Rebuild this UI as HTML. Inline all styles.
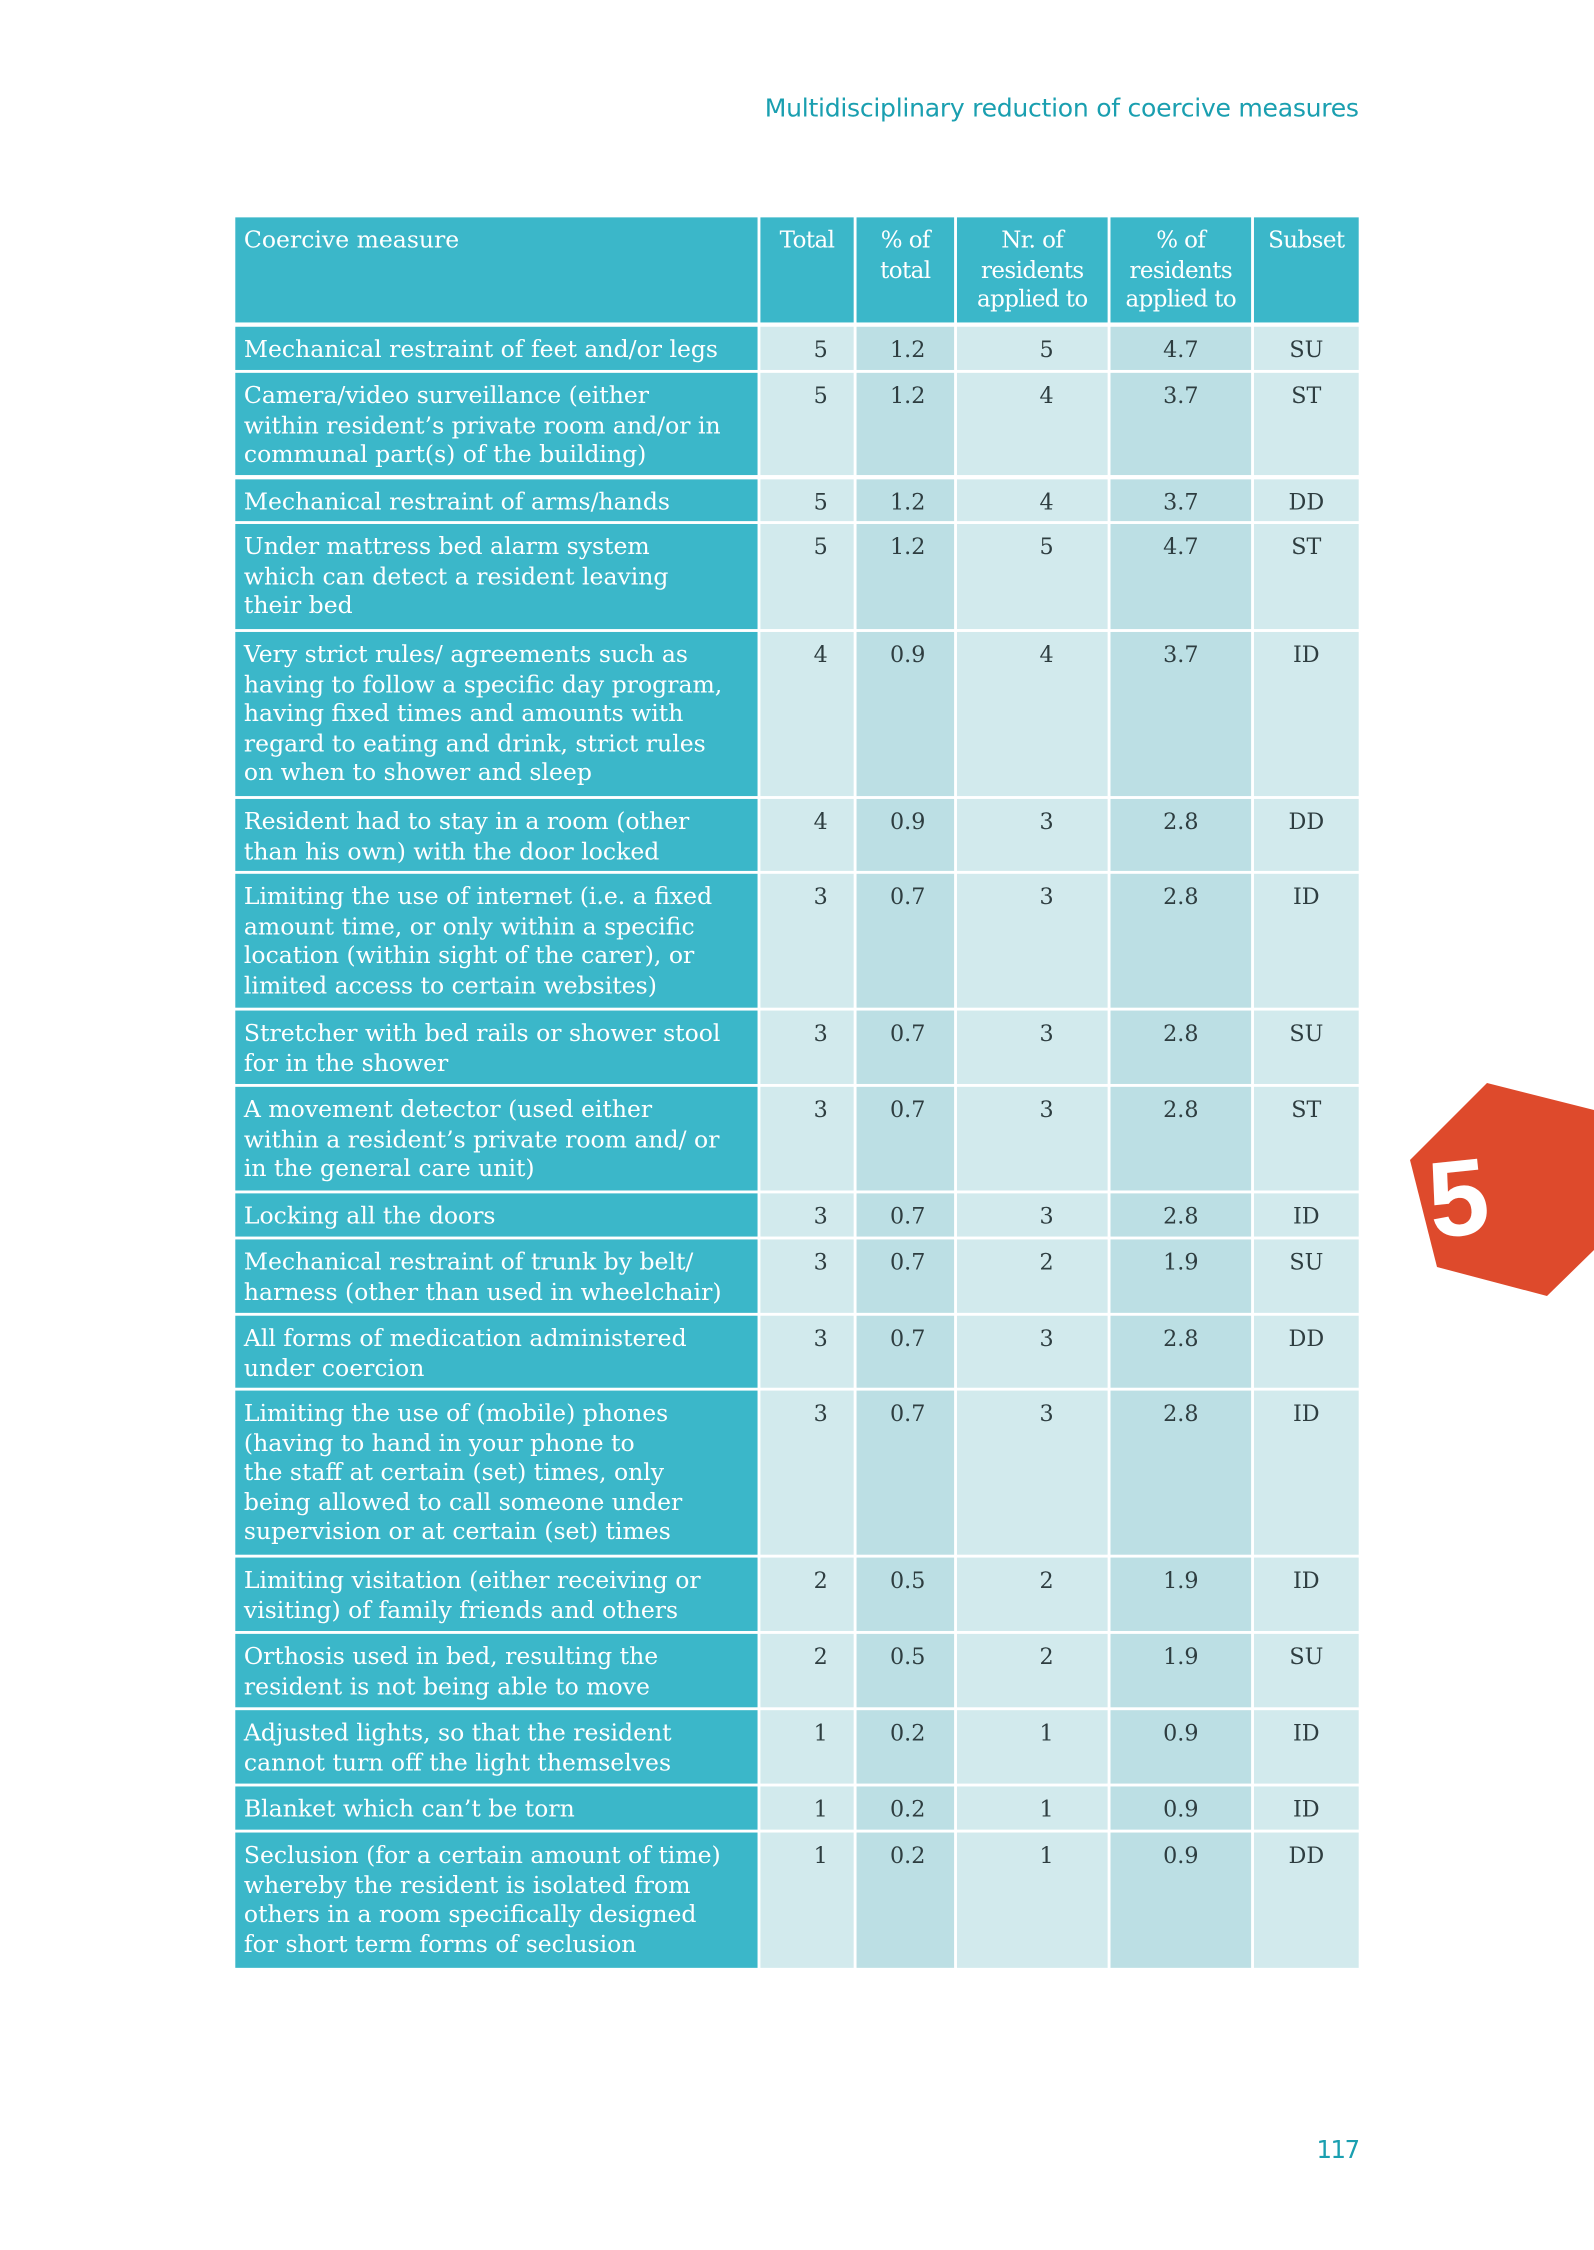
<!DOCTYPE html>
<html><head><meta charset="utf-8"><style>
html,body{margin:0;padding:0;background:#fff;width:1594px;height:2250px;overflow:hidden;}
#w{position:absolute;left:0;top:0;width:1111px;height:1563px;transform:scale(1.43474,1.43954);transform-origin:0 0;}
.c{position:absolute;box-sizing:border-box;}
.t{background:#3bb7c9;color:#fff;font-family:"DejaVu Serif","Liberation Serif",serif;font-size:16.4px;line-height:20.6px;padding:6px 0 0 6px;white-space:nowrap;letter-spacing:0px;}
.h{font-size:16px;text-align:center;padding:6px 0 0 0;}
.l{background:#d2eaed;}
.d{background:#bcdfe4;}
.n{color:#2e3d40;font-family:"DejaVu Serif","Liberation Serif",serif;font-size:15.5px;line-height:20.6px;padding-top:6px;text-align:center;font-weight:300;}
#title{position:absolute;right:164px;top:66px;color:#1a9fb0;font-family:"DejaVu Sans","Liberation Sans",sans-serif;font-size:17.5px;white-space:nowrap;letter-spacing:-0.2px;}
#pg{position:absolute;right:164px;top:1484px;color:#1a9fb0;font-family:"DejaVu Sans","Liberation Sans",sans-serif;font-size:17px;letter-spacing:-1px;}
</style></head><body>
<div id="w">
<div id="title">Multidisciplinary reduction of coercive measures</div>
<div id="pg">117</div>
<div id="tb"></div>
</div>
<svg style="position:absolute;left:0;top:0" width="1594" height="2250">
<polygon points="1487,1083 1594,1110 1594,1250 1547,1296 1437,1267 1410,1160" fill="#de4a2c"/>
<text x="1428" y="1235" fill="#fff" font-family="Liberation Sans, sans-serif" font-weight="bold" font-size="108" transform="rotate(-6 1460 1195)">5</text>
</svg>
<script>
var cols=[[164,528],[530,595],[597,665],[667,772],[774,872],[874,947]];
var rows=[
[227,257,["Mechanical restraint of feet and/or legs"],"5","1.2","5","4.7","SU"],
[259,330,["Camera/video surveillance (either","within resident’s private room and/or in","communal part(s) of the building)"],"5","1.2","4","3.7","ST"],
[333,362,["Mechanical restraint of arms/hands"],"5","1.2","4","3.7","DD"],
[364,437,["Under mattress bed alarm system","which can detect a resident leaving","their bed"],"5","1.2","5","4.7","ST"],
[439,553,["Very strict rules/ agreements such as","having to follow a specific day program,","having fixed times and amounts with","regard to eating and drink, strict rules","on when to shower and sleep"],"4","0.9","4","3.7","ID"],
[555,605,["Resident had to stay in a room (other","than his own) with the door locked"],"4","0.9","3","2.8","DD"],
[607,700,["Limiting the use of internet (i.e. a fixed","amount time, or only within a specific","location (within sight of the carer), or","limited access to certain websites)"],"3","0.7","3","2.8","ID"],
[702,753,["Stretcher with bed rails or shower stool","for in the shower"],"3","0.7","3","2.8","SU"],
[755,827,["A movement detector (used either","within a resident’s private room and/ or","in the general care unit)"],"3","0.7","3","2.8","ST"],
[829,859,["Locking all the doors"],"3","0.7","3","2.8","ID"],
[861,912,["Mechanical restraint of trunk by belt/","harness (other than used in wheelchair)"],"3","0.7","2","1.9","SU"],
[914,964,["All forms of medication administered","under coercion"],"3","0.7","3","2.8","DD"],
[966,1080,["Limiting the use of (mobile) phones","(having to hand in your phone to","the staff at certain (set) times, only","being allowed to call someone under","supervision or at certain (set) times"],"3","0.7","3","2.8","ID"],
[1082,1133,["Limiting visitation (either receiving or","visiting) of family friends and others"],"2","0.5","2","1.9","ID"],
[1135,1186,["Orthosis used in bed, resulting the","resident is not being able to move"],"2","0.5","2","1.9","SU"],
[1188,1239,["Adjusted lights, so that the resident","cannot turn off the light themselves"],"1","0.2","1","0.9","ID"],
[1241,1271,["Blanket which can’t be torn"],"1","0.2","1","0.9","ID"],
[1273,1367,["Seclusion (for a certain amount of time)","whereby the resident is isolated from","others in a room specifically designed","for short term forms of seclusion"],"1","0.2","1","0.9","DD"]
];
var h="";
function box(x0,x1,y0,y1,cls,txt,st){return '<div class="c '+cls+'" style="left:'+x0+'px;width:'+(x1-x0)+'px;top:'+y0+'px;height:'+(y1-y0)+'px;'+(st||'')+'">'+txt+'</div>';}
var hd=["Coercive measure","Total","% of<br>total","Nr. of<br>residents<br>applied to","% of<br>residents<br>applied to","Subset"];
for(var i=0;i<6;i++){h+=box(cols[i][0],cols[i][1],151,224,"t"+(i?" h":""),hd[i],i?"padding-left:0;line-height:20.5px;letter-spacing:-0.4px;":"");}
var off=[0,[10,'text-align:right;padding-right:18px;'],[0,'text-align:right;padding-right:20px;'],[0,'padding-left:20px;'],[0,''],[0,'']];
rows.forEach(function(r){
 h+=box(cols[0][0],cols[0][1],r[0],r[1],"t",r[2].join("<br>"));
 for(var i=1;i<6;i++){h+=box(cols[i][0],cols[i][1],r[0],r[1],"n "+((i==2||i==4)?"d":"l"),r[2+i],off[i][1]);}
});
document.getElementById("tb").innerHTML=h;
</script>
</body></html>
